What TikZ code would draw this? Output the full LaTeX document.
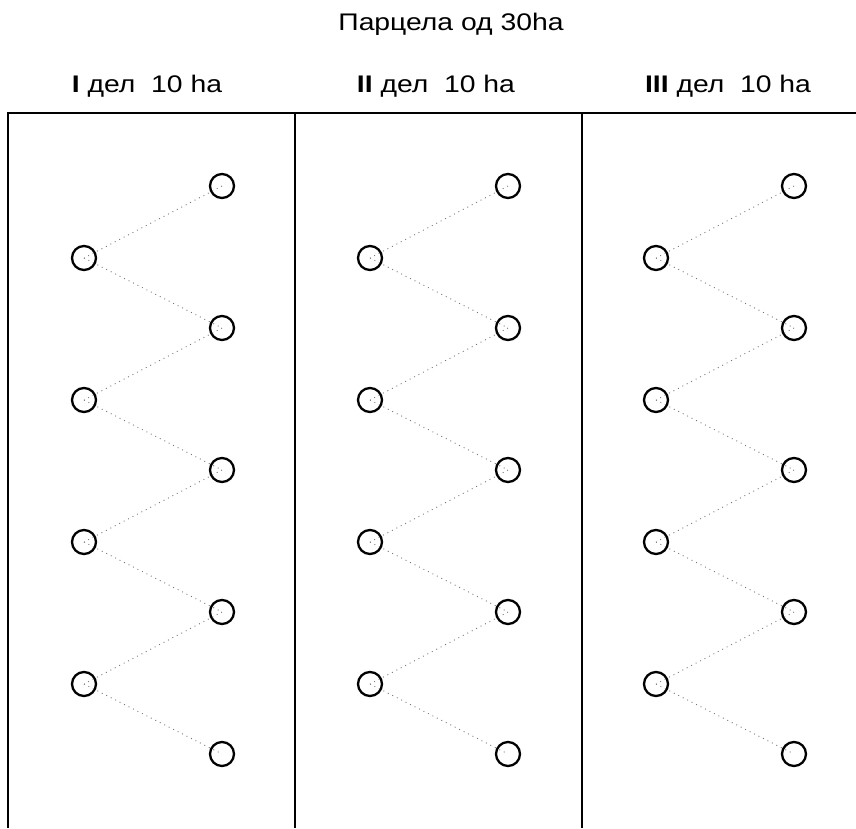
\documentclass[tikz,border=0pt]{standalone}
\usepackage{fontspec}
\setmainfont{Liberation Sans}[FakeStretch=1.18]
\usepackage{tikz}

\tikzset{
    hole/.style={circle, draw=black, line width=2.3pt, minimum size=24pt, inner sep=0pt},
    zigzag/.style={black!55, line width=0.9pt, dash pattern=on 0.9pt off 4.1pt},
    fence/.style={black, line width=2.4pt},
    label/.style={anchor=base, font=\fontsize{24}{28}\selectfont}
}

\begin{document}
\begin{tikzpicture}[x=1pt, y=-1pt]
        \useasboundingbox (0,0) rectangle (856,828);

        \node [label] (title) at (451,30) {Парцела од 30ha};
        \node [label] (head1) at (147,92) {\textbf{I} дел\ \ 10 ha};
        \node [label] (head2) at (436,92) {\textbf{II} дел\ \ 10 ha};
        \node [label] (head3) at (728,92) {\textbf{III} дел\ \ 10 ha};

        \draw [fence] (8,828) -- (8,113) -- (856,113);
        \draw [fence] (295,113) -- (295,828);
        \draw [fence] (582,113) -- (582,828);

        \foreach \c/\dx in {1/0, 2/286, 3/572} {
            \foreach \k in {1,...,5}
                \node [hole] (p\c r\k) at (222+\dx, 44+142*\k) {};
            \foreach \k in {1,...,4}
                \node [hole] (p\c l\k) at (84+\dx, 116+142*\k) {};
            \foreach \k [evaluate=\k as \n using int(\k+1)] in {1,...,4} {
                \draw [zigzag] (p\c r\k.center) -- (p\c l\k.center);
                \draw [zigzag] (p\c l\k.center) -- (p\c r\n.center);
            }
        }
    \end{tikzpicture}
\end{document}
